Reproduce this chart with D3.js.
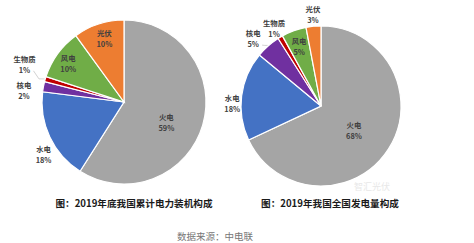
<!DOCTYPE html>
<html><head><meta charset="utf-8">
<script src="https://cdn.jsdelivr.net/npm/d3@7"></script>
<style>
html,body{margin:0;padding:0;background:#fff;}
svg{display:block;font-family:"Noto Sans CJK SC","Noto Sans",sans-serif;}
</style></head>
<body>
<svg id="c" width="474" height="243"></svg>
<script>
const categories = ["火电","水电","核电","生物质","风电","光伏"];
const capacityValues = [59,18,2,1,10,10];
const generationValues = [68,18,5,1,5,3];
const capacityLabels = ["59%","18%","2%","1%","10%","10%"];
const generationLabels = ["68%","18%","5%","1%","5%","3%"];
const titles = ["图：2019年底我国累计电力装机构成","图：2019年我国全国发电量构成"];
const sourceText = "数据来源：中电联";

const colors = ["#a5a5a5","#4472c4","#7030a0","#c00000","#70ad47","#ed7d31"];
const svg = d3.select("#c");

// label placement: [angle in degrees clockwise from top, radius factor]
const charts = [
  {vals:capacityValues, labs:capacityLabels, cx:124, cy:102, r:82,
   lp:[[115,0.57],[237,1.17],[277,1.23],[291,1.3],[305,0.83],[343,0.82]],
   leader:[false,false,false,true,false,false], tx:134},
  {vals:generationValues, labs:generationLabels, cx:321, cy:106, r:80,
   lp:[[126,0.51],[272,1.11],[315,1.2],[329,1.14],[340,0.8],[355,1.15]],
   leader:[false,false,true,false,false,false], tx:330}
];

const pie = d3.pie().sort(null).value(d=>d.v);

charts.forEach((ch,ci)=>{
  const data = categories.map((c,i)=>({c, v:ch.vals[i], l:ch.labs[i], i}));
  const arcs = pie(data);
  const g = svg.append("g").attr("transform",`translate(${ch.cx},${ch.cy})`);
  const arc = d3.arc().innerRadius(0).outerRadius(ch.r);
  g.selectAll("path").data(arcs).join("path")
    .attr("d",arc).attr("fill",(d,i)=>colors[i])
    .attr("stroke","#fff").attr("stroke-width",1.2);
  arcs.forEach((a,i)=>{
    const m=ch.lp[i][0]*Math.PI/180;
    const rr=ch.r*ch.lp[i][1];
    const x=Math.sin(m)*rr, y=-Math.cos(m)*rr;
    if(ch.leader[i]){
      const mm=(a.startAngle+a.endAngle)/2;
      const ex=Math.sin(mm)*ch.r*1.01, ey=-Math.cos(mm)*ch.r*1.01;
      const sx=x+9, sy=y+7;
      g.append("path").attr("d",`M${sx},${sy}L${(sx+ex)/2},${ey}L${ex},${ey}`)
        .attr("fill","none").attr("stroke","#bfbfbf").attr("stroke-width",0.7);
    }
    const t=g.append("text").attr("text-anchor","middle")
      .attr("font-size",7.4).attr("font-weight",600).attr("fill","#404040");
    t.append("tspan").attr("x",x).attr("y",y-2).text(a.data.c);
    t.append("tspan").attr("x",x).attr("y",y+9).text(a.data.l);
  });
  svg.append("text").attr("x",ch.tx).attr("y",207).attr("text-anchor","middle")
    .attr("font-size",9.6).attr("font-weight",700).attr("fill","#1a1a1a").text(titles[ci]);
});

svg.append("text").attr("x",372).attr("y",190).attr("text-anchor","middle")
  .attr("font-size",9).attr("fill","#e8e8e8").text("智汇光伏");

svg.append("text").attr("x",215).attr("y",240).attr("text-anchor","middle")
  .attr("font-size",9.5).attr("fill","#777").text(sourceText);
</script>
</body></html>
